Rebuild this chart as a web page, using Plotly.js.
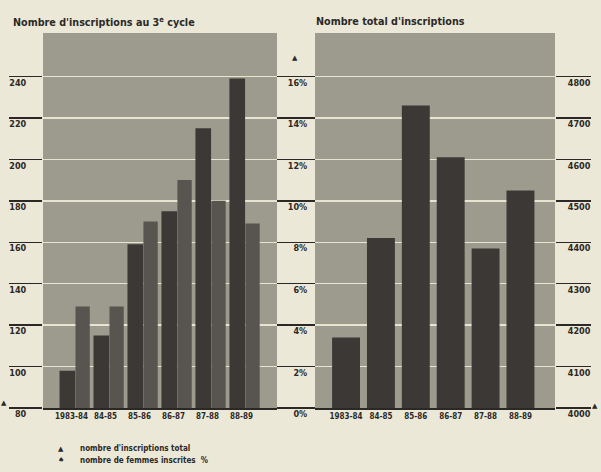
<!DOCTYPE html>
<html>
<head>
<meta charset="utf-8">
<script src="https://cdn.plot.ly/plotly-3.0.1.min.js"></script>
<style>
html,body{margin:0;padding:0;background:#ebe8d7;}
#chart{width:601px;height:472px;}
</style>
</head>
<body>
<div id="chart"></div>
<script>
// ---- data ----
const categories = ['1983-84', '84-85', '85-86', '86-87', '87-88', '88-89'];
const inscriptions3eCycle = [98, 115, 159, 175, 215, 239];
const femmesPct = [4.9, 4.9, 9.0, 11.0, 10.0, 8.9];
const inscriptionsTotal = [4170, 4410, 4730, 4605, 4385, 4525];

const leftTicks = [80, 100, 120, 140, 160, 180, 200, 220, 240];
const pctTicks = [0, 2, 4, 6, 8, 10, 12, 14, 16];
const pctLabels = ['0%', '2%', '4%', '6%', '8%', '10%', '12%', '14%', '16%'];
const rightTicks = [4000, 4100, 4200, 4300, 4400, 4500, 4600, 4700, 4800];

const leftTitle = "Nombre d'inscriptions au 3<sup>e</sup> cycle";
const rightTitle = "Nombre total d'inscriptions";
const legendLabels = ["nombre d'inscriptions total", "nombre de femmes inscrites  %"];

// ---- style ----
const FONT = "'Liberation Sans Narrow', 'DejaVu Sans Condensed', 'Arial Narrow', sans-serif";
const INK = '#2b2927';
const GRID = '#e8e4d2';
const W = 601, H = 472;
const px = v => v / W;
const py = v => 1 - v / H;

const traces = [
  {
    type: 'bar', x: categories, y: inscriptions3eCycle, xaxis: 'x', yaxis: 'y',
    marker: {color: '#3b3835'}, width: 0.46, offset: -0.47,
    showlegend: false, hoverinfo: 'skip'
  },
  {
    type: 'bar', x: categories, y: femmesPct, xaxis: 'x', yaxis: 'y2',
    marker: {color: '#58544f'}, width: 0.42, offset: 0.0,
    showlegend: false, hoverinfo: 'skip'
  },
  {
    type: 'bar', x: categories, y: inscriptionsTotal, xaxis: 'x2', yaxis: 'y3',
    marker: {color: '#3b3835'}, width: 0.8,
    showlegend: false, hoverinfo: 'skip'
  }
];

const tickFont = {family: FONT, size: 9, color: INK, weight: 'bold'};
const xFont = {family: FONT, size: 8, color: INK, weight: 'bold'};

const layout = {
  width: W, height: H,
  margin: {l: 0, r: 0, t: 0, b: 0},
  paper_bgcolor: '#ebe8d7',
  plot_bgcolor: '#9d9a8e',
  font: {family: FONT, color: INK},
  showlegend: false,
  xaxis: {
    domain: [px(43), px(277)], anchor: 'y',
    type: 'category', categoryarray: categories,
    range: [-0.956, 5.93],
    showgrid: false, zeroline: false,
    showline: true, linecolor: INK, linewidth: 1.5,
    ticks: '', tickangle: 0, tickfont: xFont, ticklabelshift: -4
  },
  xaxis2: {
    domain: [px(315), px(555)], anchor: 'y3',
    type: 'category', categoryarray: categories,
    range: [-0.89, 5.99],
    showgrid: false, zeroline: false,
    showline: true, linecolor: INK, linewidth: 1.5,
    ticks: '', tickangle: 0, tickfont: xFont
  },
  yaxis: {
    domain: [py(408), py(33)], anchor: 'x',
    range: [80, 261],
    tickvals: leftTicks,
    showgrid: true, gridcolor: GRID, gridwidth: 1.5,
    zeroline: false, showline: false,
    ticks: 'outside', ticklen: 33, tickwidth: 1.5, tickcolor: INK,
    tickfont: tickFont, ticklabelstandoff: -19, ticklabelshift: 6
  },
  yaxis2: {
    overlaying: 'y', anchor: 'free', position: px(315), side: 'left',
    range: [0, 18.1],
    tickvals: pctTicks, ticktext: pctLabels,
    showgrid: false, zeroline: false, showline: false,
    ticks: 'outside', ticklen: 38, tickwidth: 1.5, tickcolor: INK,
    tickfont: tickFont, ticklabelstandoff: -32, ticklabelshift: 6
  },
  yaxis3: {
    domain: [py(408), py(33)], anchor: 'x2', side: 'right',
    range: [4000, 4905],
    tickvals: rightTicks,
    showgrid: true, gridcolor: GRID, gridwidth: 1.5,
    zeroline: false, showline: false,
    ticks: 'outside', ticklen: 35, tickwidth: 1.5, tickcolor: INK,
    tickfont: tickFont, ticklabelstandoff: -25, ticklabelshift: 6
  },
  annotations: [
    {xref: 'paper', yref: 'paper', x: px(11), y: py(22), xanchor: 'left', yanchor: 'middle',
     text: leftTitle, showarrow: false, font: {family: FONT, size: 10.7, color: INK, weight: 'bold'}},
    {xref: 'paper', yref: 'paper', x: px(314), y: py(22), xanchor: 'left', yanchor: 'middle',
     text: rightTitle, showarrow: false, font: {family: FONT, size: 10.7, color: INK, weight: 'bold'}},
    // axis markers
    {xref: 'paper', yref: 'paper', x: px(4), y: py(403), xanchor: 'center', yanchor: 'middle',
     text: '▲', showarrow: false, font: {family: 'DejaVu Sans', size: 7, color: INK}},
    {xref: 'paper', yref: 'paper', x: px(295), y: py(58), xanchor: 'center', yanchor: 'middle',
     text: '▲', showarrow: false, font: {family: 'DejaVu Sans', size: 7, color: INK}},
    {xref: 'paper', yref: 'paper', x: px(595), y: py(406), xanchor: 'center', yanchor: 'middle',
     text: '▲', showarrow: false, font: {family: 'DejaVu Sans', size: 7, color: INK}},
    // legend
    {xref: 'paper', yref: 'paper', x: px(61), y: py(449), xanchor: 'center', yanchor: 'middle',
     text: '▲', showarrow: false, font: {family: 'DejaVu Sans', size: 7, color: INK}},
    {xref: 'paper', yref: 'paper', x: px(61), y: py(460), xanchor: 'center', yanchor: 'middle',
     text: '♠', showarrow: false, font: {family: 'DejaVu Sans', size: 7, color: INK}},
    {xref: 'paper', yref: 'paper', x: px(78), y: py(448), xanchor: 'left', yanchor: 'middle',
     text: legendLabels[0], showarrow: false, font: {family: FONT, size: 8, color: INK, weight: 'bold'}},
    {xref: 'paper', yref: 'paper', x: px(78), y: py(460), xanchor: 'left', yanchor: 'middle',
     text: legendLabels[1], showarrow: false, font: {family: FONT, size: 8, color: INK, weight: 'bold'}}
  ]
};

Plotly.newPlot('chart', traces, layout, {displayModeBar: false, staticPlot: true});
</script>
</body>
</html>
